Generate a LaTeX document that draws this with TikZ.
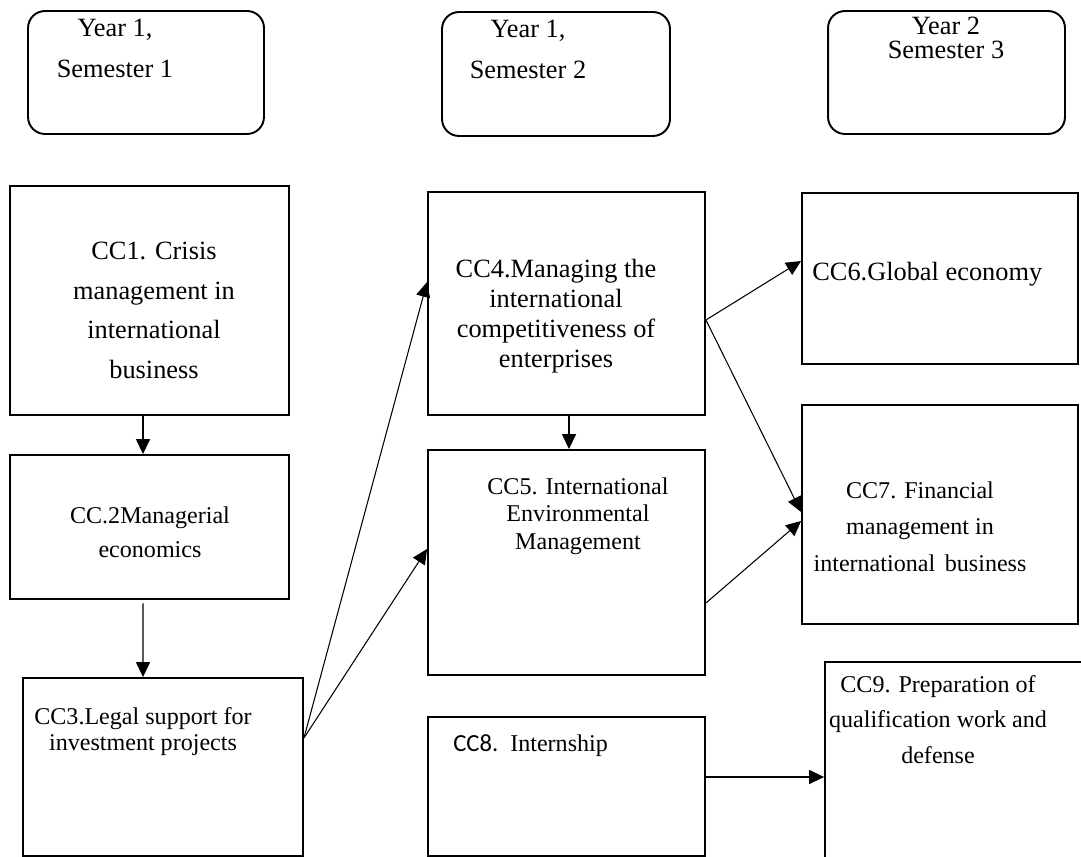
\documentclass[tikz,border=0pt]{standalone}
\usepackage{fontspec}
\setmainfont{Liberation Serif}
\newfontfamily\calfont{Carlito}
\usetikzlibrary{arrows.meta}

\begin{document}
\begin{tikzpicture}[
		x=0.02cm, y=-0.02cm,
		yearbox/.style={
			shape=rectangle,
			draw,
			line width=1.1pt,
			rounded corners=0.34cm
		},
		ccbox/.style={
			shape=rectangle,
			draw,
			line width=1.1pt
		},
		bigtxt/.style={
			font=\fontsize{15pt}{#1}\selectfont,
			align=center,
			anchor=base,
			inner sep=0pt
		},
		smalltxt/.style={
			font=\fontsize{13.7pt}{#1}\selectfont,
			align=center,
			anchor=base,
			inner sep=0pt
		},
		arr/.style={-{Triangle[length=8.5pt,width=8pt]}, line width=0.6pt}
		]
		
		\useasboundingbox (0,0) rectangle (1081,857);
		\clip (0,0) rectangle (1081,857);
		
		\node[yearbox, minimum width=4.72cm, minimum height=2.46cm] (year1) at (146,72.5) {};
		\node[yearbox, minimum width=4.56cm, minimum height=2.48cm] (year2) at (556,74) {};
		\node[yearbox, minimum width=4.74cm, minimum height=2.46cm] (year3) at (946.5,72.5) {};
		
		% texts are placed at the baseline of their last line
		\node[bigtxt=23.9pt] (year1txt) at (115,78) {Year 1,\\Semester 1};
		\node[bigtxt=23.9pt] (year2txt) at (528,79) {Year 1,\\Semester 2};
		\node[bigtxt=13.5pt] (year3txt) at (946,58.5) {Year 2\\Semester 3};
		
		\node[ccbox, minimum width=5.58cm, minimum height=4.58cm] (cc1) at (149.5,300.5) {};
		\node[ccbox, minimum width=5.58cm, minimum height=2.88cm] (cc2) at (149.5,527) {};
		\node[ccbox, minimum width=5.60cm, minimum height=3.56cm] (cc3) at (163,767) {};
		\node[ccbox, minimum width=5.54cm, minimum height=4.46cm] (cc4) at (566.5,303.5) {};
		\node[ccbox, minimum width=5.54cm, minimum height=4.50cm] (cc5) at (566.5,562.5) {};
		\node[ccbox, minimum width=5.54cm, minimum height=2.78cm] (cc8) at (566.5,786.5) {};
		\node[ccbox, minimum width=5.52cm, minimum height=3.42cm] (cc6) at (940,278.5) {};
		\node[ccbox, minimum width=5.52cm, minimum height=4.38cm] (cc7) at (940,514.5) {};
		\node[ccbox, minimum width=5.40cm, minimum height=4.36cm] (cc9) at (960,771) {};
		
		\node[bigtxt=22.5pt] (cc1txt) at (154,378.5)
		{CC1. Crisis\\management in\\international\\business};
		\node[smalltxt=19.9pt] (cc2txt) at (150,558)
		{CC.2Managerial\\economics};
		\node[smalltxt=14.8pt] (cc3txt) at (143,750)
		{CC3.Legal support for\\investment projects};
		\node[bigtxt=17.2pt] (cc4txt) at (556,368)
		{CC4.Managing the\\international\\competitiveness of\\enterprises};
		\node[smalltxt=15.4pt] (cc5txt) at (578,549)
		{CC5. International\\Environmental\\Management};
		\node[smalltxt=15pt, anchor=base west] (cc8txt) at (453,751)
		{{\calfont\fontsize{14pt}{15pt}\selectfont CC8.}\hspace{0.5em}Internship};
		\node[bigtxt=17pt, anchor=base west] (cc6txt) at (812,281)
		{CC6.Global economy};
		\node[smalltxt=20.5pt] (cc7txt) at (920,571)
		{CC7. Financial\\management in\\international\hspace{0.4em}business};
		\node[smalltxt=20.2pt] (cc9txt) at (938,763)
		{CC9. Preparation of\\qualification work and\\defense};
		
		%%%%%%%%%%
		
		\draw[arr] ([xshift=-0.13cm]cc1.south) -- ([xshift=-0.13cm]cc2.north);
		\draw[arr, shorten <=2pt] ([xshift=-0.13cm]cc2.south) -- ([xshift=-0.4cm]cc3.north);
		
		\draw[arr] ([yshift=0.58cm]cc3.east) -- ([yshift=0.43cm]cc4.west);
		\draw[arr] ([yshift=0.58cm]cc3.east) -- ([yshift=0.27cm]cc5.west);
		
		\draw[arr] ([xshift=0.05cm]cc4.south) -- ([xshift=0.05cm]cc5.north);
		
		\draw[arr] ([yshift=-0.33cm]cc4.east) -- ([yshift=0.35cm]cc6.west);
		\draw[arr] ([yshift=-0.33cm]cc4.east) -- ([yshift=0.05cm]cc7.west);
		\draw[arr] ([yshift=-0.81cm]cc5.east) -- ([yshift=-0.13cm]cc7.west);
		
		\draw[arr] ([yshift=0.19cm]cc8.east) -- ([yshift=0.19cm]cc8.east -| cc9.west);
		
	\end{tikzpicture}
\end{document}
